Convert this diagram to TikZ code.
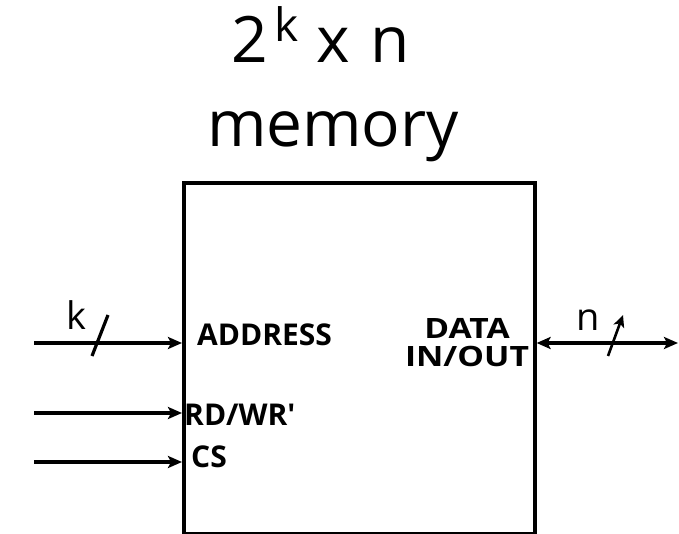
\documentclass[tikz,border=0pt]{standalone}
\usepackage{fontspec}
\setmainfont{Open Sans}
\usetikzlibrary{arrows.meta}
\begin{document}
\begin{tikzpicture}[x=1pt,y=-1pt,
  wire/.style={line width=3.2pt},
  sig/.style={wire,-{Stealth[length=14pt,width=12pt,inset=3pt]}},
  bidir/.style={wire,{Stealth[length=14pt,width=12pt,inset=3pt]}-{Stealth[length=14pt,width=12pt,inset=3pt]}},
  lbl/.style={font=\bfseries\fontsize{30}{32}\selectfont, inner sep=0pt, anchor=base west},
  lblc/.style={font=\bfseries\fontsize{28}{30}\selectfont, inner sep=0pt, anchor=base},
  buslbl/.style={font=\fontsize{38}{38}\selectfont, inner sep=0pt, anchor=base},
  title/.style={font=\fontsize{64}{64}\selectfont, inner sep=0pt, anchor=base}]
\useasboundingbox (0,0) rectangle (679,534);
% memory block
\node[draw, line width=3.6pt, minimum width=351pt, minimum height=351pt, inner sep=0pt, anchor=north west] (mem) at (182,181) {};
% title
\node[title] (t1) at (321,63) {2\hspace{6pt}\raisebox{21pt}{\fontsize{46}{46}\selectfont k}\hspace{18pt}x\hspace{4pt} n};
\node[title] (t2) at (333,147) {memory};
% inputs
\coordinate (a0) at (34,343);
\coordinate (r0) at (34,413);
\coordinate (c0) at (34,462);
\draw[sig] (a0) -- (a0 -| mem.west);
\draw[sig] (r0) -- (r0 -| mem.west);
\draw[sig] (c0) -- (c0 -| mem.west);
\coordinate (ks1) at (92,356);
\coordinate (ks2) at (108,315);
\draw[wire] (ks1) -- (ks2);
\node[buslbl] (klbl) at (76,329) {k};
% labels
\node[lbl] (addr) at (197,345) {ADDRESS};
\node[lbl] (rdwr) at (184,425) {RD/WR\textquotesingle};
\node[lbl] (cs) at (191,467) {CS};
\node[lblc] (data) at (467,338) {\scalebox{1.2}[1]{DATA}};
\node[lblc] (inout) at (467,366) {\scalebox{1.2}[1]{IN/OUT}};
% data bus
\coordinate (d1) at (678,343);
\draw[bidir] (mem.east |- d1) -- (d1);
\coordinate (ns1) at (608,356);
\coordinate (ns2) at (623,315);
\draw[wire,line width=2.6pt,-{Stealth[length=12pt,width=11pt,inset=3pt]}] (ns1) -- (ns2);
\node[buslbl] (nlbl) at (588,330) {n};
\end{tikzpicture}
\end{document}
